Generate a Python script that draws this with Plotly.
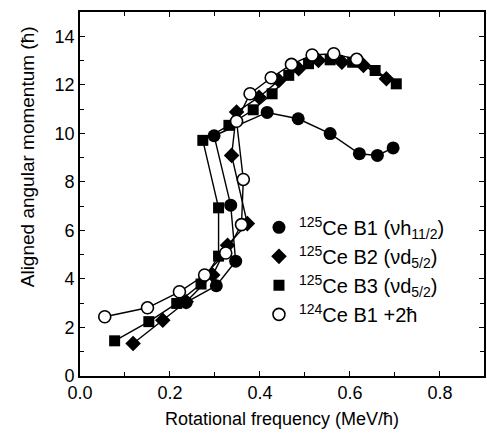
import plotly.graph_objects as go

# 125Ce B1 (nu h11/2)
b1_x = [0.236, 0.303, 0.346, 0.335, 0.298, 0.416, 0.485, 0.556, 0.621, 0.661, 0.696]
b1_y = [3.03, 3.72, 4.73, 7.04, 9.90, 10.86, 10.60, 9.99, 9.16, 9.09, 9.40]

# 125Ce B2 (nu d5/2)
b2_x = [0.118, 0.184, 0.236, 0.295, 0.328, 0.372, 0.337, 0.348, 0.398, 0.442, 0.486, 0.530, 0.582, 0.630, 0.681]
b2_y = [1.34, 2.30, 3.06, 4.16, 5.39, 6.28, 9.09, 10.88, 11.49, 12.18, 12.66, 13.00, 12.93, 12.80, 12.25]

# 125Ce B3 (nu d5/2)
b3_x = [0.077, 0.153, 0.215, 0.269, 0.308, 0.308, 0.273, 0.331, 0.385, 0.427, 0.464, 0.508, 0.556, 0.606, 0.656, 0.703]
b3_y = [1.45, 2.24, 2.99, 3.79, 4.94, 6.93, 9.71, 10.33, 10.97, 11.63, 12.39, 12.87, 13.03, 12.93, 12.59, 12.04]

# 124Ce B1 + 2hbar
c124_x = [0.055, 0.150, 0.221, 0.277, 0.324, 0.359, 0.363, 0.348, 0.378, 0.425, 0.470, 0.516, 0.564, 0.615]
c124_y = [2.44, 2.81, 3.47, 4.16, 5.07, 6.24, 8.10, 10.50, 11.63, 12.29, 12.84, 13.23, 13.28, 13.05]

x_ticks = [0.0, 0.2, 0.4, 0.6, 0.8]
x_tick_labels = ["0.0", "0.2", "0.4", "0.6", "0.8"]
y_ticks = [0, 2, 4, 6, 8, 10, 12, 14]

series = [
    (b1_x, b1_y, "<sup>125</sup>Ce B1 (νh<sub>11/2</sub>)", dict(symbol="circle", size=13, color="black")),
    (b2_x, b2_y, "<sup>125</sup>Ce B2 (νd<sub>5/2</sub>)", dict(symbol="diamond", size=12, color="black")),
    (b3_x, b3_y, "<sup>125</sup>Ce B3 (νd<sub>5/2</sub>)", dict(symbol="square", size=11, color="black")),
    (c124_x, c124_y, "<sup>124</sup>Ce B1 +2ħ", dict(symbol="circle", size=12, color="white",
                                                   line=dict(color="black", width=1.6))),
]

fig = go.Figure()
for xs, ys, name, mk in series:
    fig.add_trace(go.Scatter(x=xs, y=ys, mode="lines", line=dict(color="black", width=1.4),
                             showlegend=False, hoverinfo="skip"))
for xs, ys, name, mk in series:
    fig.add_trace(go.Scatter(x=xs, y=ys, mode="markers", marker=mk, name=name))

font_family = "Liberation Sans, Arial, sans-serif"

fig.update_layout(
    width=487, height=433,
    margin=dict(l=80, r=1, t=12, b=57),
    paper_bgcolor="white", plot_bgcolor="white",
    font=dict(family=font_family, color="black", size=17),
    legend=dict(x=0.443, y=0.462, xanchor="left", yanchor="top",
                font=dict(size=20), bgcolor="rgba(0,0,0,0)",
                tracegroupgap=0, itemwidth=30),
    annotations=[dict(text="Aligned angular momentum (ħ)", textangle=-90,
                      xref="paper", yref="paper", x=(27 - 80) / 406, y=(376 - 157) / 364,
                      showarrow=False, font=dict(size=19), xanchor="center", yanchor="middle")],
)
fig.update_xaxes(range=[0, 0.898], tickvals=x_ticks, ticktext=x_tick_labels,
                 ticks="inside", ticklen=5, tickwidth=1.3, tickcolor="black",
                 minor=dict(dtick=0.1, ticks="inside", ticklen=4, tickwidth=1.3, tickcolor="black"),
                 showline=True, linecolor="black", linewidth=1.6, mirror="ticks",
                 showgrid=False, zeroline=False, tickfont=dict(size=18),
                 title=dict(text="Rotational frequency (MeV/ħ)", font=dict(size=18), standoff=10))
fig.update_yaxes(range=[0, 15], tickvals=y_ticks,
                 ticks="inside", ticklen=5, tickwidth=1.3, tickcolor="black",
                 minor=dict(dtick=1, ticks="inside", ticklen=4, tickwidth=1.3, tickcolor="black"),
                 showline=True, linecolor="black", linewidth=1.6, mirror="ticks",
                 showgrid=False, zeroline=False, tickfont=dict(size=18))

fig.write_html("out.html")
